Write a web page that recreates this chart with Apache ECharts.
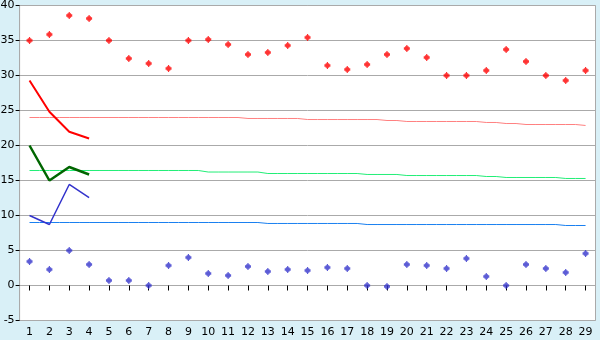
<!DOCTYPE html>
<html>
<head>
<meta charset="utf-8">
<script src="https://cdn.jsdelivr.net/npm/echarts@6/dist/echarts.min.js"></script>
<style>
html,body{margin:0;padding:0;background:#d9f0f7;}
#c{width:600px;height:340px;}
</style>
</head>
<body>
<div id="c"></div>
<script>
var categories = ['1','2','3','4','5','6','7','8','9','10','11','12','13','14','15','16','17','18','19','20','21','22','23','24','25','26','27','28','29'];
var yTicks = { min: -5, max: 40, interval: 5 };

var redPoints = [35.0,35.86,38.57,38.14,35.0,32.43,31.71,31.0,35.0,35.14,34.43,33.0,33.29,34.29,35.43,31.43,30.86,31.57,33.0,33.86,32.57,30.0,30.0,30.71,33.71,32.0,30.0,29.29,30.71];
var bluePoints = [3.43,2.29,5.0,3.0,0.71,0.71,0.0,2.86,4.0,1.71,1.43,2.71,2.0,2.29,2.14,2.57,2.43,0.0,-0.14,3.0,2.86,2.43,3.86,1.29,0.0,3.0,2.43,1.86,4.57];

var redLine = [29.29,24.83,21.97,21.0];
var greenLine = [20.0,15.0,16.93,15.86];
var blueLine = [10.0,8.71,14.43,12.57];

var redFlat = [24.0,24.0,24.0,24.0,24.0,24.0,24.0,24.0,24.0,24.0,24.0,23.86,23.86,23.86,23.71,23.71,23.71,23.71,23.57,23.43,23.43,23.43,23.43,23.29,23.14,23.0,23.0,23.0,22.86];
var greenFlat = [16.43,16.43,16.43,16.43,16.43,16.43,16.43,16.43,16.43,16.21,16.21,16.21,16.0,16.0,16.0,16.0,16.0,15.86,15.86,15.71,15.71,15.71,15.71,15.57,15.43,15.43,15.43,15.29,15.29];
var blueFlat = [9.0,9.0,9.0,9.0,9.0,9.0,9.0,9.0,9.0,9.0,9.0,9.0,8.86,8.86,8.86,8.86,8.86,8.71,8.71,8.71,8.71,8.71,8.71,8.71,8.71,8.71,8.71,8.57,8.57];

var chart = echarts.init(document.getElementById('c'), null, {renderer:'canvas'});
var font = 'DejaVu Sans';
var markShape = 'path://M2,0H3V1H4V2H5V4H4V5H3V6H2V5H1V4H0V2H1V1H2Z';
function flat(data, color){
  return {type:'line', data:data, step:'middle', showSymbol:false, symbol:'none',
    lineStyle:{color:color, width:1}, itemStyle:{color:color}, z:2, silent:true};
}
function short(data, color, w){
  return {type:'line', data:data, showSymbol:false, symbol:'none',
    lineStyle:{color:color, width:w}, itemStyle:{color:color}, z:3, silent:true};
}
function pts(data, color){
  return {type:'scatter', data:data, symbol:markShape, symbolSize:[6,7],
    itemStyle:{color:color}, z:4, silent:true};
}
chart.setOption({
  animation:false,
  backgroundColor:'#d9f0f7',
  grid:{left:19.6, right:4.5, top:5.5, bottom:19.5, show:true, backgroundColor:'#ffffff',
        borderColor:'#aaaaaa', borderWidth:1, containLabel:false, outerBoundsMode:'none'},
  xAxis:{type:'category', data:categories, boundaryGap:true,
    axisLine:{show:true, lineStyle:{color:'#aaaaaa', width:1}},
    axisTick:{show:true, alignWithLabel:true, length:5, lineStyle:{color:'#000000'}},
    axisLabel:{color:'#000000', fontFamily:font, fontSize:11, margin:6, interval:0},
    splitLine:{show:false}},
  yAxis:{type:'value', min:yTicks.min, max:yTicks.max, interval:yTicks.interval,
    axisLine:{show:true, lineStyle:{color:'#aaaaaa', width:1}},
    axisTick:{show:true, length:4, lineStyle:{color:'#000000'}},
    axisLabel:{color:'#000000', fontFamily:font, fontSize:11, margin:5},
    splitLine:{show:true, lineStyle:{color:'#aaaaaa', width:1}}},
  series:[
    flat(redFlat,'#ff8080'),
    flat(greenFlat,'#22ee77'),
    flat(blueFlat,'#1a80f0'),
    short(redLine,'#ff0000',2),
    short(greenLine,'#006600',2.5),
    short(blueLine,'#3333cc',1.5),
    pts(redPoints,'#ff0000'),
    pts(bluePoints,'#3333cc')
  ]
});
</script>
</body>
</html>
